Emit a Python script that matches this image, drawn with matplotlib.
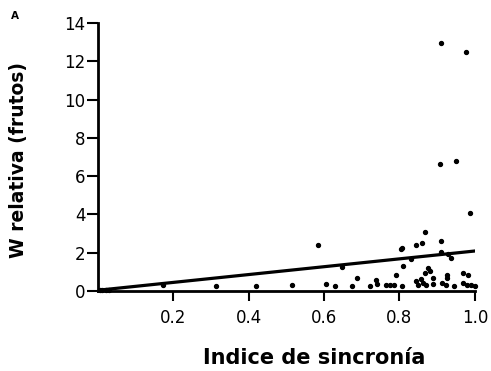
"""Relative fitness (fruits) vs synchrony index."""

import matplotlib.pyplot as plt
import numpy as np

SAIDA = "out.png"

# puntos
sincronia = [
    0.005, 0.01, 0.02, 0.03, 0.173, 0.313, 0.419, 0.516, 0.583, 0.606,
    0.629, 0.648, 0.673, 0.688, 0.723, 0.737, 0.741, 0.765, 0.775, 0.785,
    0.792, 0.804, 0.806, 0.807, 0.81, 0.83, 0.844, 0.844, 0.85, 0.858,
    0.859, 0.863, 0.869, 0.869, 0.87, 0.876, 0.881, 0.889, 0.889, 0.907,
    0.91, 0.91, 0.91, 0.914, 0.923, 0.925, 0.925, 0.93, 0.938, 0.944,
    0.95, 0.969, 0.969, 0.976, 0.978, 0.982, 0.987, 0.989, 1.0,
]
w_relativa = [
    0.03, 0.05, 0.04, 0.06, 0.31, 0.26, 0.26, 0.31, 2.40, 0.35,
    0.28, 1.24, 0.28, 0.66, 0.28, 0.57, 0.35, 0.30, 0.30, 0.30,
    0.84, 2.19, 0.28, 2.26, 1.32, 1.66, 2.40, 0.52, 0.31, 0.61,
    2.49, 0.40, 3.08, 0.92, 0.31, 1.18, 1.06, 0.66, 0.35, 6.63,
    12.96, 2.60, 2.04, 0.40, 0.31, 0.84, 0.66, 1.92, 1.71, 0.28,
    6.79, 0.92, 0.40, 12.49, 0.31, 0.84, 4.08, 0.31, 0.28,
]

# recta de regresión
intercepto = 0.04
pendiente = 2.05
x_recta = np.array([0.01, 1.0])

fig = plt.figure(figsize=(4.91, 3.71), dpi=100)
ax = fig.add_axes([0.1996, 0.2156, 0.7675, 0.7224])

ax.scatter(sincronia, w_relativa, s=8, color="black", zorder=3, clip_on=False)
ax.plot(x_recta, intercepto + pendiente * x_recta, color="black", linewidth=2.3)

ax.set_xlim(0, 1.0)
ax.set_ylim(0, 14)
ax.set_xticks([0.2, 0.4, 0.6, 0.8, 1.0])
ax.set_xticklabels(["0.2", "0.4", "0.6", "0.8", "1.0"])
ax.set_yticks(range(0, 15, 2))

for lado in ["top", "right"]:
    ax.spines[lado].set_visible(False)
for lado in ["left", "bottom"]:
    ax.spines[lado].set_linewidth(2)

ax.tick_params(axis="x", direction="out", length=7, width=1.5, labelsize=12, pad=6)
ax.tick_params(axis="y", direction="out", length=8, width=1.5, labelsize=12, pad=1)

ax.set_xlabel("Indice de sincronía", fontsize=15, fontweight="bold")
ax.set_ylabel("W relativa (frutos)", fontsize=13.5, fontweight="bold")
ax.xaxis.set_label_coords(0.573, -0.213)
ax.yaxis.set_label_coords(-0.185, 0.49)

fig.text(0.03, 0.957, "A", fontsize=7.5, fontweight="bold", ha="center", va="center")

plt.savefig(SAIDA, dpi=100)
print(f"Gráfico guardado: {SAIDA}")
